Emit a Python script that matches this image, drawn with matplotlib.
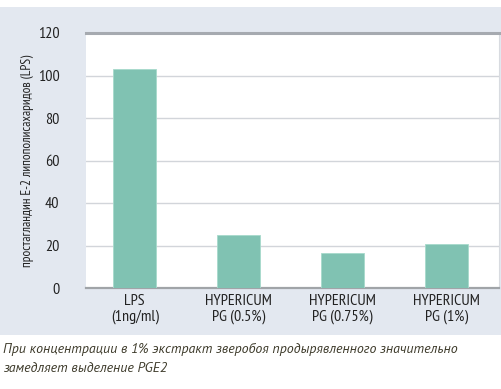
import matplotlib
matplotlib.use("Agg")
import matplotlib.pyplot as plt
from matplotlib.patches import Rectangle

categories = ["LPS\n(1ng/ml)", "HYPERICUM\nPG (0.5%)", "HYPERICUM\nPG (0.75%)", "HYPERICUM\nPG (1%)"]
values = [103, 25, 16.3, 20.5]
yticks = [0, 20, 40, 60, 80, 100, 120]
ylabel = "простагландин E-2 липополисахаридов (LPS)"
caption = ("При концентрации в 1% экстракт зверобоя продырявленного значительно\n"
           "замедляет выделение PGE2")

NARROW = ["PT Sans Narrow", "Roboto Condensed", "DejaVu Sans"]
ITAL = ["PT Sans", "Fira Sans", "DejaVu Sans"]

W, H = 501, 389
fig = plt.figure(figsize=(W / 100, H / 100), dpi=100)
fig.patch.set_facecolor("white")
fig.patches.append(Rectangle((0, 1 - 335 / H), 1, (335 - 7) / H, transform=fig.transFigure,
                             facecolor="#e3e8f0", edgecolor="none", zorder=-10))

ax = fig.add_axes([86 / W, 1 - 288 / H, 413 / W, (288 - 33) / H])
ax.set_zorder(1)
ax.set_facecolor("white")
x = range(len(values))
ax.bar(x, values, width=0.415, color="#80c2b2", edgecolor="#a6dacb", linewidth=0.6, zorder=3)
ax.set_xlim(-0.47, 3.51)
ax.set_ylim(0, 120)
ax.set_yticks(yticks)
ax.grid(axis="y", color="#d2d5da", linewidth=1.0, zorder=0)
ax.axhline(120, color="#a6aab0", linewidth=2.2, zorder=4, clip_on=False)
for s in ["left", "top"]:
    ax.spines[s].set_visible(False)
ax.spines["right"].set_color("#d8dbe0")
ax.spines["bottom"].set_color("#a0a4a8")
ax.spines["bottom"].set_linewidth(1.6)
ax.tick_params(length=0, labelsize=11.5, colors="#222222")
ax.tick_params(axis="y", pad=19)
ax.tick_params(axis="x", pad=4)
ax.set_xticks(list(x))
ax.set_xticklabels(categories, linespacing=1.15, family=NARROW)
for t in ax.get_yticklabels():
    t.set_family(NARROW)
ax.set_ylabel(ylabel, fontsize=9.6, color="#222222", labelpad=3, family=NARROW)

fig.text(3 / W, 1 - 343 / H, caption, fontsize=10, style="italic", color="#3d3a2a",
         va="top", ha="left", linespacing=1.6, family=ITAL)
fig.savefig("out.png", dpi=100)
